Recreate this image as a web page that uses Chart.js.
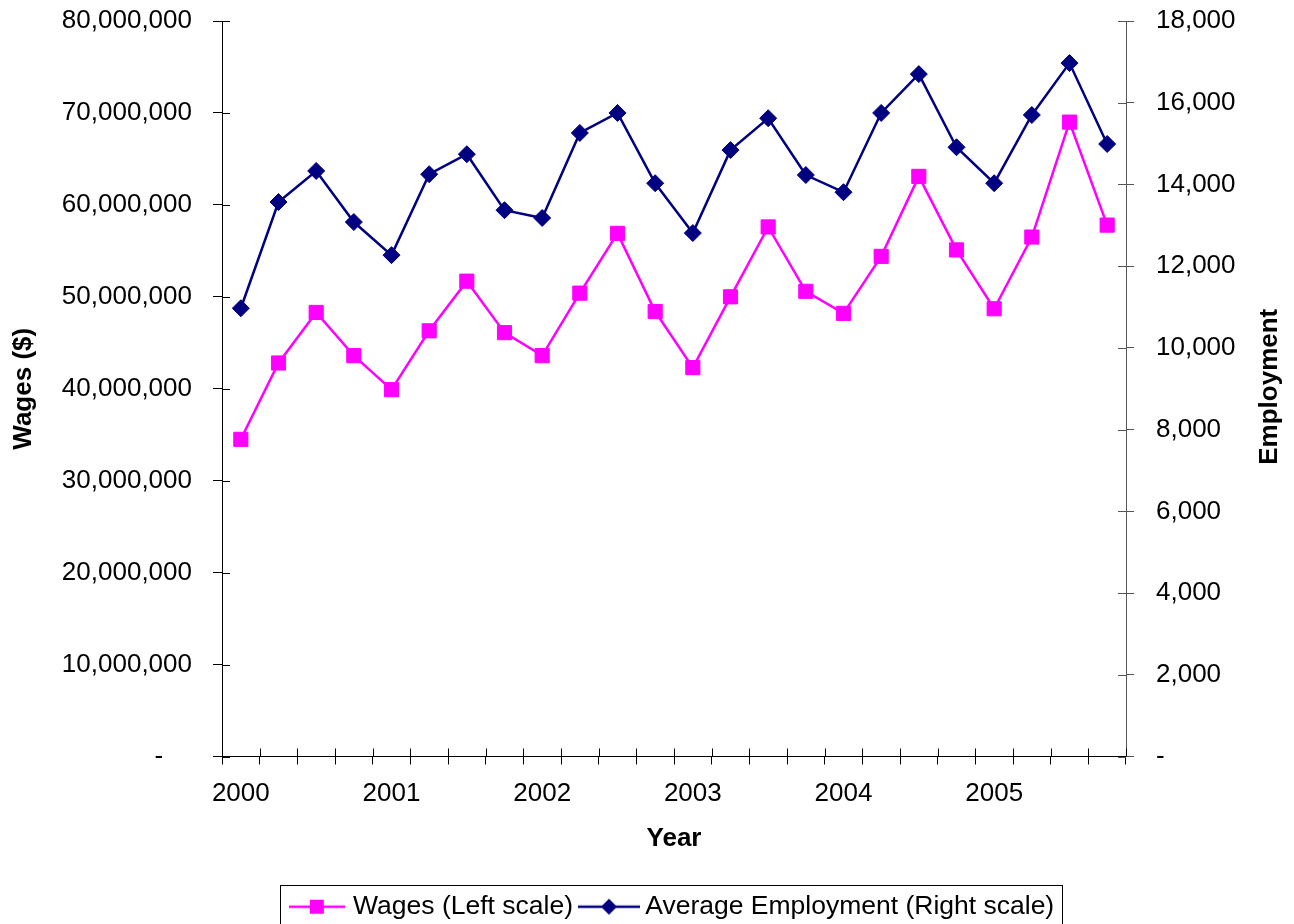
<!DOCTYPE html>
<html>
<head>
<meta charset="utf-8">
<script src="https://cdn.jsdelivr.net/npm/chart.js@4/dist/chart.umd.min.js"></script>
<style>
  body { margin: 0; background: #fff; }
  #wrap { width: 1294px; height: 924px; }
</style>
</head>
<body>
<div id="wrap"><canvas id="myCanvas" width="1294" height="924"></canvas></div>
<script>
'use strict';

// data (quarters 2000 Q1 .. 2005 Q4)
const quarters = [
  '2000 Q1', '2000 Q2', '2000 Q3', '2000 Q4',
  '2001 Q1', '2001 Q2', '2001 Q3', '2001 Q4',
  '2002 Q1', '2002 Q2', '2002 Q3', '2002 Q4',
  '2003 Q1', '2003 Q2', '2003 Q3', '2003 Q4',
  '2004 Q1', '2004 Q2', '2004 Q3', '2004 Q4',
  '2005 Q1', '2005 Q2', '2005 Q3', '2005 Q4'
];
const wages = [
  34500000, 42800000, 48300000, 43600000,
  39900000, 46300000, 51700000, 46100000,
  43600000, 50400000, 56900000, 48400000,
  42300000, 50000000, 57600000, 50600000,
  48200000, 54400000, 63100000, 55100000,
  48700000, 56500000, 69000000, 57800000
];
const employment = [
  10970, 13570, 14330, 13080,
  12270, 14250, 14740, 13370,
  13180, 15260, 15750, 14030,
  12810, 14840, 15620, 14230,
  13810, 15750, 16700, 14910,
  14030, 15700, 16970, 14990
];
const wageTicks = { min: 0, max: 80000000, step: 10000000 };
const empTicks = { min: 0, max: 18000, step: 2000 };

const pink = '#ff00ff';
const navy = '#000080';
const FONT = 'Liberation Sans, Arial, sans-serif';

Chart.defaults.font.family = FONT;
Chart.defaults.font.size = 26;
Chart.defaults.color = '#000';

// little line + marker pictures for the legend
function makeIcon(color, shape, w) {
  const c = document.createElement('canvas');
  c.width = w;
  c.height = 20;
  const g = c.getContext('2d');
  g.strokeStyle = color;
  g.fillStyle = color;
  g.lineWidth = 2.5;
  g.beginPath();
  g.moveTo(0, 10);
  g.lineTo(w, 10);
  g.stroke();
  const m = w / 2;
  if (shape === 'square') {
    g.fillRect(m - 7, 3, 14, 14);
  } else {
    g.beginPath();
    g.moveTo(m, 2);
    g.lineTo(m + 8, 10);
    g.lineTo(m, 18);
    g.lineTo(m - 8, 10);
    g.closePath();
    g.fill();
  }
  return c;
}
const icons = [makeIcon(pink, 'square', 56), makeIcon(navy, 'diamond', 62)];

// y scales: fixed width, no extra room above/below for the end labels
function fixY(width) {
  return s => {
    s.width = width;
    s.paddingTop = 0;
    s.paddingBottom = 0;
  };
}

// ticks crossing the axes, right title, legend frame
const extras = {
  id: 'extras',
  afterDraw(chart) {
    const ctx = chart.ctx;
    const area = chart.chartArea;
    const sx = chart.scales.x;
    const yl = chart.scales.y;
    const yr = chart.scales.y1;
    ctx.save();
    ctx.lineWidth = 1;
    ctx.strokeStyle = '#000';
    ctx.beginPath();
    yl.ticks.forEach((t, i) => {
      const y = Math.round(yl.getPixelForTick(i)) + 0.5;
      ctx.moveTo(area.left, y);
      ctx.lineTo(area.left + 8, y);
    });
    for (let i = 0; i <= quarters.length; i++) {
      const x = Math.round(sx.getPixelForValue(i - 0.5)) + 0.5;
      ctx.moveTo(x, area.bottom);
      ctx.lineTo(x, area.bottom - 8);
    }
    ctx.stroke();
    ctx.strokeStyle = '#555';
    ctx.beginPath();
    yr.ticks.forEach((t, i) => {
      const y = Math.round(yr.getPixelForTick(i)) + 0.5;
      ctx.moveTo(area.right, y);
      ctx.lineTo(area.right - 8, y);
    });
    ctx.stroke();

    ctx.translate(1270, (area.top + area.bottom) / 2 - 2);
    ctx.rotate(-Math.PI / 2);
    ctx.font = 'bold 26px ' + FONT;
    ctx.fillStyle = '#000';
    ctx.textAlign = 'center';
    ctx.textBaseline = 'middle';
    ctx.fillText('Employment', 0, 0);
    ctx.restore();

    const boxes = chart.legend.legendHitBoxes;
    if (boxes && boxes.length) {
      const first = boxes[0];
      const last = boxes[boxes.length - 1];
      const left = Math.round(first.left - 14) + 0.5;
      const right = Math.round(last.left + last.width + 8) + 0.5;
      ctx.save();
      ctx.strokeStyle = '#000';
      ctx.lineWidth = 1;
      ctx.strokeRect(left, Math.round(first.top - 9) + 0.5, right - left, 80);
      ctx.restore();
    }
  }
};

const data = {
  labels: quarters,
  datasets: [{
    label: 'Wages (Left scale)',
    data: wages,
    yAxisID: 'y',
    borderColor: pink,
    backgroundColor: pink,
    borderWidth: 2.5,
    pointStyle: 'rect',
    pointRadius: 10,
    pointBorderWidth: 1,
    tension: 0
  },
  {
    label: 'Average Employment (Right scale)',
    data: employment,
    yAxisID: 'y1',
    borderColor: navy,
    backgroundColor: navy,
    borderWidth: 2.5,
    pointStyle: 'rectRot',
    pointRadius: 8.5,
    pointBorderWidth: 1,
    tension: 0
  }]
};

const config = {
  type: 'line',
  data: data,
  options: {
    responsive: false,
    animation: false,
    layout: { padding: { top: 21, left: 0, right: 0, bottom: -6 } },
    plugins: {
      tooltip: { enabled: false },
      legend: {
        position: 'bottom',
        fullSize: false,
        labels: {
          usePointStyle: true,
          pointStyleWidth: 46,
          padding: 13,
          font: { size: 26.5 },
          generateLabels: chart => chart.data.datasets.map((ds, i) => ({
            text: ds.label,
            pointStyle: icons[i],
            fillStyle: ds.borderColor,
            strokeStyle: ds.borderColor,
            lineWidth: 0,
            hidden: false,
            datasetIndex: i,
            fontColor: '#000'
          }))
        }
      }
    },
    scales: {
      x: {
        offset: true,
        grid: { offset: true, drawOnChartArea: false, drawTicks: true, tickLength: 8, color: '#000' },
        border: { color: '#000', width: 1 },
        ticks: {
          autoSkip: false,
          maxRotation: 0,
          padding: 14,
          callback: function(v, i) {
            return quarters[i].endsWith('Q1') ? quarters[i].slice(0, 4) : '';
          }
        },
        title: { display: true, text: 'Year', font: { weight: 'bold', size: 26 }, padding: { top: 0, bottom: 26 } },
        afterFit: s => { s.height = 124; }
      },
      y: {
        position: 'left',
        min: wageTicks.min,
        max: wageTicks.max,
        grid: { drawOnChartArea: false, tickLength: 9, color: '#000' },
        border: { color: '#000', width: 1 },
        ticks: {
          stepSize: wageTicks.step,
          padding: 21,
          callback: v => v === 0 ? '-    ' : v.toLocaleString('en-US')
        },
        title: { display: true, text: 'Wages ($)', font: { weight: 'bold', size: 26 }, padding: { top: 8, bottom: 0 } },
        afterFit: fixY(222)
      },
      y1: {
        position: 'right',
        min: empTicks.min,
        max: empTicks.max,
        grid: { drawOnChartArea: false, tickLength: 8, color: '#555' },
        border: { color: '#555', width: 1 },
        ticks: {
          stepSize: empTicks.step,
          padding: 22,
          callback: v => v === 0 ? '-' : v.toLocaleString('en-US')
        },
        afterFit: fixY(168)
      }
    }
  },
  plugins: [extras]
};

const chart = document.getElementById('myCanvas');
const myChart = new Chart(chart, config);
</script>
</body>
</html>
